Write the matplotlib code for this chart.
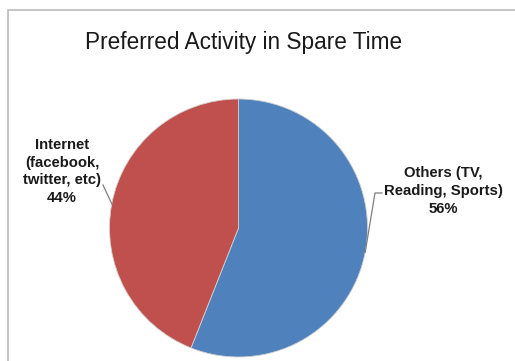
import numpy as np
import matplotlib
matplotlib.use("Agg")
import matplotlib.pyplot as plt
from matplotlib.patches import Rectangle

# Survey data
categories = ["Others (TV,\nReading, Sports)", "Internet\n(facebook,\ntwitter, etc)"]
shares = [56, 44]
colors = ["#4F81BD", "#C0504D"]
title = "Preferred Activity in Spare Time"

W, H = 515, 361
fig = plt.figure(figsize=(W / 100, H / 100), dpi=100)
fig.patch.set_facecolor("white")

# Chart frame (open on the right and bottom edges)
fig.patches.append(Rectangle((8, -20), 600, H - 10 + 20, transform=None,
                             fill=False, edgecolor="#BFBFBF", linewidth=1.3))

# Pie axes: centre (238.5, 228) px from top-left, radius 129 px
cx, cy, r = 238.5, 228, 129
ax = fig.add_axes([(cx - r) / W, (H - cy - r) / H, 2 * r / W, 2 * r / H])
wedges, _ = ax.pie(shares, colors=colors, startangle=90, counterclock=False,
                   wedgeprops=dict(linewidth=0.6, edgecolor="#D0D0D0"))
ax.set_xlim(-1, 1)
ax.set_ylim(-1, 1)
ax.axis("off")

fig.text(244 / W, 1 - 42 / H, title, ha="center", va="center",
         fontsize=16.3, family="Liberation Sans", color="#1A1A1A")

# Labels with leader lines to the wedge edge midpoint
label_pos = [(443, 191), (62, 171.5)]     # text centre, px from top-left
elbow = [[(382, 193), (375, 193)], [(103, 185)]]
for w, cat, val, (tx, ty), pts in zip(wedges, categories, shares, label_pos, elbow):
    mid = np.deg2rad((w.theta1 + w.theta2) / 2)
    ex, ey = cx + r * np.cos(mid), cy - r * np.sin(mid)
    xs = [p[0] for p in pts] + [ex]
    ys = [H - p[1] for p in pts] + [H - ey]
    fig.add_artist(plt.Line2D(xs, ys, transform=None, color="#7F7F7F", linewidth=0.9))
    fig.text(tx / W, 1 - ty / H, f"{cat}\n{val}%", ha="center", va="center",
             fontsize=10.7, fontweight="bold", family="Liberation Sans",
             color="#1A1A1A", linespacing=1.32)

fig.savefig("out.png", dpi=100, facecolor="white")
